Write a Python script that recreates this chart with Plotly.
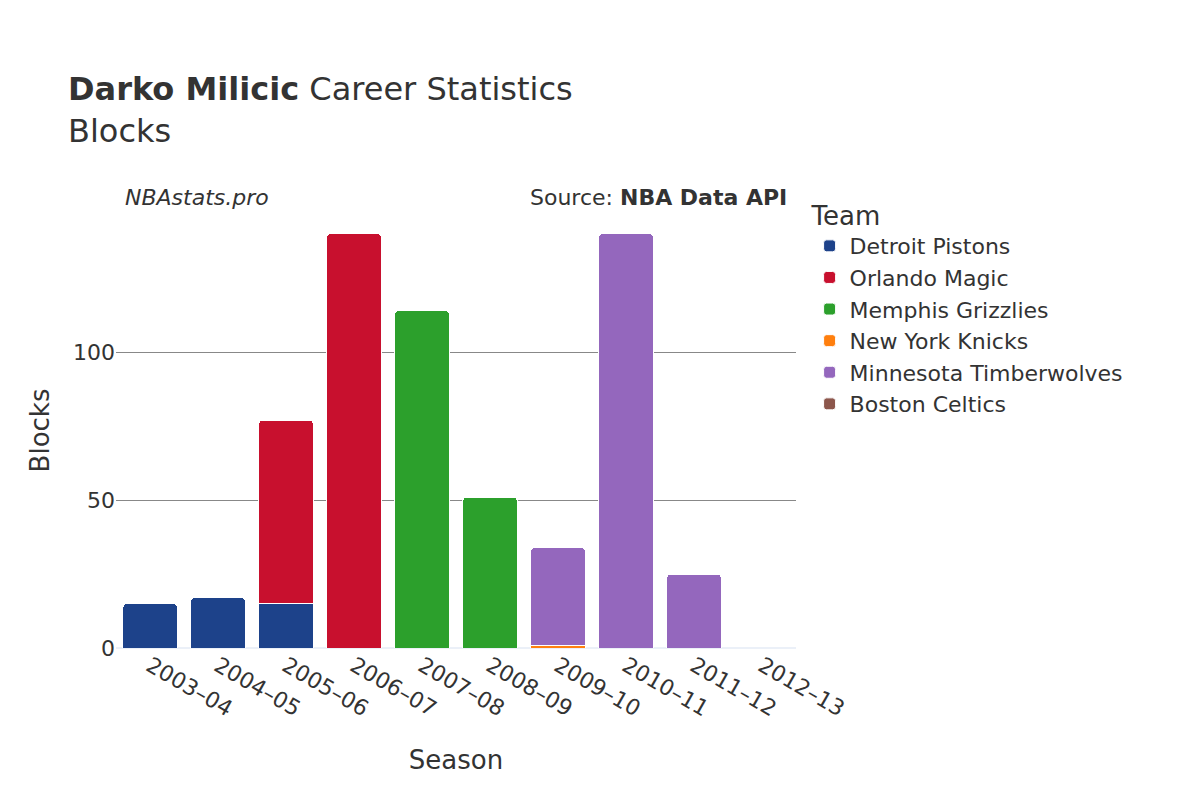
import plotly.graph_objects as go

SEASONS = ["2003–04", "2004–05", "2005–06", "2006–07", "2007–08",
           "2008–09", "2009–10", "2010–11", "2011–12", "2012–13"]

TEAMS = [
    ("Detroit Pistons", "#1D428A", ["2003–04", "2004–05", "2005–06"], [15, 17, 15]),
    ("Orlando Magic", "#C8102E", ["2005–06", "2006–07"], [62, 140]),
    ("Memphis Grizzlies", "#2CA02C", ["2007–08", "2008–09"], [114, 51]),
    ("New York Knicks", "#FF7F0E", ["2009–10"], [1]),
    ("Minnesota Timberwolves", "#9467BD", ["2009–10", "2010–11", "2011–12"], [33, 140, 25]),
    ("Boston Celtics", "#8C564B", ["2012–13"], [0]),
]

fig = go.Figure()
for name, color, seasons, blocks in TEAMS:
    fig.add_trace(go.Bar(
        x=seasons, y=blocks, name=name,
        marker=dict(color=color, line=dict(color="white", width=1), cornerradius=4),
    ))

fig.update_layout(
    barmode="stack",
    width=1200, height=800,
    template="plotly_white",
    font=dict(family="DejaVu Sans, sans-serif", size=22, color="#333"),
    title=dict(
        text="<b>Darko Milicic</b> Career Statistics<br>Blocks",
        x=0.05, y=0.885, font=dict(size=32),
    ),
    margin=dict(l=108, r=412, t=205, b=160),
    legend=dict(title=dict(text="Team", font=dict(size=26)), x=1.02, y=1.05,
                traceorder="normal", font=dict(size=22), tracegroupgap=8),
    bargap=0.2,
    xaxis=dict(title=dict(text="Season", font=dict(size=26), standoff=30), tickangle=30,
               categoryorder="array", categoryarray=SEASONS),
    yaxis=dict(title=dict(text="Blocks", font=dict(size=26)), gridcolor="#888",
               range=[0, 147], tickvals=[0, 50, 100]),
)
fig.add_annotation(text="<i>NBAstats.pro</i>", xref="paper", yref="paper",
                   x=0.01, y=1.07, showarrow=False, xanchor="left", font=dict(size=22))
fig.add_annotation(text="Source: <b>NBA Data API</b>", xref="paper", yref="paper",
                   x=0.99, y=1.07, showarrow=False, xanchor="right", font=dict(size=22))

fig.write_html("out.html")
